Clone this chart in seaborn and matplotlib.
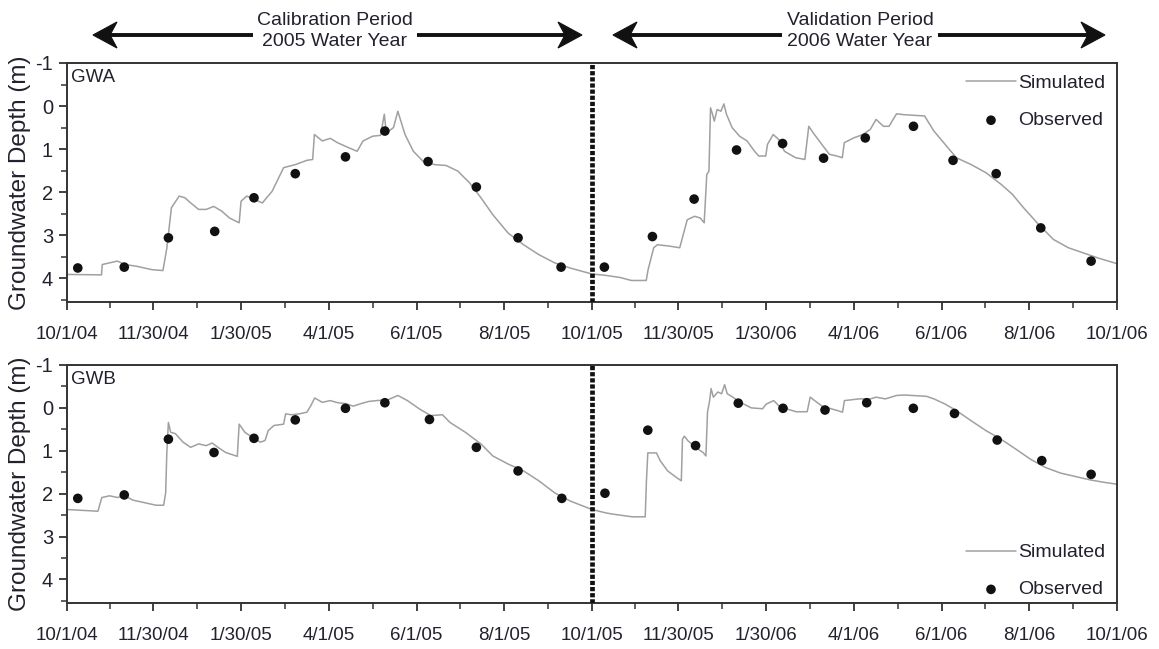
import numpy as np
import pandas as pd
import matplotlib
matplotlib.use("Agg")
import matplotlib.pyplot as plt
from matplotlib.patches import Polygon
from matplotlib.lines import Line2D
import seaborn as sns

START = "2004-10-01"
SPLIT = "2005-10-01"

# ---- GWA : days since 10/1/04, groundwater depth (m) ----
gwa_sim_day = [0, 24, 24.5, 35, 40.3, 48.4, 59.2, 66.7, 69.4, 72.6, 78, 82, 86, 91.5, 96.8,
               102, 107.6, 113, 119.7, 121, 125, 130.5, 135.8, 142.6, 150.6, 158.7, 166.8,
               170.8, 172, 177.5, 183, 188, 196, 201.7, 205.8, 212.5, 218, 220.6, 222, 227,
               230, 235, 240.8, 247.5, 255.5, 263.6, 271.7, 279.8, 287.8, 296, 306.7, 317.4,
               328, 339, 349.7, 365, 374.1, 384.5, 392.3, 402.7, 404, 407.9, 410.5, 418.3,
               426, 431.2, 436.4, 440.3, 443, 444.8, 446.3, 447.4, 448.9, 450, 452, 454.6,
               456.7, 458.5, 462.4, 467.6, 472.8, 478, 481, 485.8, 487, 491, 494.9, 498.8,
               506.6, 513, 515.7, 519.6, 524.8, 530, 535.2, 539, 540.4, 546.9, 553.4, 558.5,
               562.5, 567.6, 571.5, 576.7, 581.9, 596.2, 602.7, 610.5, 618.3, 628.7, 639,
               649.5, 657.3, 665, 675.5, 685.9, 696.2, 706.6, 717, 730]
gwa_sim_depth = [3.91, 3.92, 3.68, 3.6, 3.68, 3.72, 3.8, 3.82, 3.3, 2.36, 2.09, 2.13, 2.25,
                 2.4, 2.4, 2.33, 2.44, 2.6, 2.71, 2.21, 2.09, 2.17, 2.25, 1.98, 1.43, 1.36,
                 1.26, 1.24, 0.66, 0.81, 0.75, 0.85, 0.97, 1.05, 0.81, 0.7, 0.68, 0.19, 0.62,
                 0.5, 0.12, 0.66, 1.05, 1.28, 1.36, 1.38, 1.51, 1.78, 2.13, 2.52, 2.95, 3.22,
                 3.45, 3.64, 3.76, 3.9, 3.93, 3.98, 4.05, 4.05, 3.8, 3.29, 3.22, 3.25, 3.29,
                 2.64, 2.56, 2.6, 2.71, 1.59, 1.51, 0.04, 0.2, 0.35, 0.08, 0.12, -0.05, 0.19,
                 0.5, 0.7, 0.81, 1.05, 1.16, 1.16, 0.89, 0.66, 0.78, 1.05, 1.2, 1.24, 0.47,
                 0.66, 0.89, 1.12, 1.16, 1.2, 0.85, 0.74, 0.66, 0.54, 0.31, 0.47, 0.47, 0.18,
                 0.2, 0.23, 0.58, 0.89, 1.2, 1.36, 1.55, 1.82, 2.05, 2.36, 2.75, 3.1, 3.29,
                 3.41, 3.53, 3.66]
gwa_obs_day = [7.5, 39.8, 70.5, 102.7, 130, 158.7, 193.6, 221, 251, 284.6, 313.6, 343.5,
               373.6, 407, 436, 465.5, 497.5, 526, 555, 588.5, 616, 646, 677, 712]
gwa_obs_depth = [3.76, 3.74, 3.06, 2.91, 2.13, 1.57, 1.18, 0.58, 1.29, 1.88, 3.06, 3.74,
                 3.74, 3.03, 2.16, 1.02, 0.87, 1.21, 0.74, 0.47, 1.26, 1.57, 2.83, 3.6]

# ---- GWB ----
gwb_sim_day = [0, 21.5, 24.2, 29.6, 35, 40.3, 45.7, 53.8, 61.9, 67.2, 68.6, 69.4, 70.5, 72.1,
               75.3, 80.7, 86, 91.5, 96.8, 100.9, 104.9, 110.3, 118.4, 119.7, 123.7, 129,
               134.5, 137.7, 139.9, 143.9, 150.6, 152, 156, 161.4, 166.8, 169.5, 172.2, 177.5,
               183, 188.3, 193.7, 199, 204.4, 209.8, 215.2, 223.3, 230, 236.7, 244.8, 252.9,
               261, 266.3, 277, 287.8, 296, 306.7, 317.4, 328, 339, 349.7, 365, 374.8, 380,
               393, 402, 402.8, 403.8, 409.8, 412.4, 417.6, 424, 427.1, 427.9, 429.2, 431.8,
               437, 442.2, 444.2, 445.3, 446.8, 447.8, 449.4, 452.5, 455.1, 457.2, 459, 462.9,
               468, 475.8, 483.6, 486.2, 491.3, 495.2, 499.1, 506.9, 514.6, 516.7, 519.8, 525,
               535.4, 539.2, 540.5, 550.9, 558.7, 562.5, 569, 576.8, 582, 597.5, 602.7, 610.4,
               618.2, 628.6, 638.9, 649.3, 659.6, 670, 680.3, 690.7, 701, 711.4, 721.8, 730]
gwb_sim_depth = [2.37, 2.41, 2.09, 2.05, 2.09, 2.05, 2.15, 2.21, 2.27, 2.27, 1.98, 1.04,
                 0.34, 0.57, 0.6, 0.8, 0.92, 0.84, 0.88, 0.82, 0.92, 1.04, 1.13, 0.38, 0.57,
                 0.69, 0.8, 0.76, 0.53, 0.41, 0.38, 0.14, 0.16, 0.14, 0.1, -0.05, -0.23, -0.13,
                 -0.17, -0.12, -0.1, -0.04, -0.1, -0.15, -0.17, -0.19, -0.29, -0.17, 0.02, 0.18,
                 0.16, 0.34, 0.57, 0.84, 1.12, 1.31, 1.47, 1.7, 1.98, 2.17, 2.37, 2.45, 2.48,
                 2.54, 2.54, 1.74, 1.05, 1.05, 1.23, 1.47, 1.63, 1.7, 0.73, 0.66, 0.77, 0.92,
                 1.04, 1.12, 0.1, -0.17, -0.45, -0.25, -0.37, -0.33, -0.54, -0.33, -0.25,
                 -0.13, 0.0, 0.02, -0.09, -0.17, -0.04, 0.01, 0.09, 0.09, -0.25, -0.17, -0.04,
                 0.06, 0.1, -0.17, -0.21, -0.21, -0.25, -0.21, -0.29, -0.3, -0.27, -0.21,
                 -0.09, 0.06, 0.3, 0.53, 0.73, 0.96, 1.2, 1.39, 1.52, 1.6, 1.68, 1.74, 1.78]
gwb_obs_day = [7.5, 39.8, 70.5, 102.2, 130, 158.7, 193.6, 221, 252, 284.6, 313.6, 344,
               374, 403.8, 437, 466.7, 497.8, 527, 556, 588.4, 617, 646.7, 677.7, 712]
gwb_obs_depth = [2.11, 2.03, 0.73, 1.04, 0.71, 0.28, 0.01, -0.12, 0.27, 0.92, 1.47, 2.11,
                 1.99, 0.52, 0.88, -0.11, 0.01, 0.05, -0.12, 0.01, 0.13, 0.75, 1.23, 1.55]

tick_dates = ["2004-10-01", "2004-11-30", "2005-01-30", "2005-04-01", "2005-06-01",
              "2005-08-01", "2005-10-01", "2005-11-30", "2006-01-30", "2006-04-01",
              "2006-06-01", "2006-08-01", "2006-10-01"]
tick_labels = ["10/1/04", "11/30/04", "1/30/05", "4/1/05", "6/1/05", "8/1/05", "10/1/05",
               "11/30/05", "1/30/06", "4/1/06", "6/1/06", "8/1/06", "10/1/06"]
y_ticks = [-1, 0, 1, 2, 3, 4]
panel_names = ["GWA", "GWB"]
period_text = ["Calibration Period\n2005 Water Year", "Validation Period\n2006 Water Year"]


def to_dates(days):
    return pd.Timestamp(START) + pd.to_timedelta(np.asarray(days, dtype=float), unit="D")


sns.set_theme(style="ticks")
FAM = ["Liberation Sans", "DejaVu Sans"]
plt.rcParams["font.family"] = FAM
plt.rcParams["axes.unicode_minus"] = False
TXT = "#22222e"

W, H = 1159, 649
fig = plt.figure(figsize=(W / 100, H / 100), dpi=100)
ax1 = fig.add_axes([67 / W, 1 - 302 / H, 1050 / W, 239 / H])
ax2 = fig.add_axes([67 / W, 1 - 603 / H, 1050 / W, 238 / H])

tdt = pd.to_datetime(tick_dates)
minor_dt = tdt[:-1] + (tdt[1:] - tdt[:-1]) / 2

panels = [
    (ax1, gwa_sim_day, gwa_sim_depth, gwa_obs_day, gwa_obs_depth, "upper right", (1.0, 1.0)),
    (ax2, gwb_sim_day, gwb_sim_depth, gwb_obs_day, gwb_obs_depth, "lower right", (1.0, -0.03)),
]
for i, (ax, sd, sv, od, ov, loc, anchor) in enumerate(panels):
    sim = pd.DataFrame({"date": to_dates(sd), "depth": sv})
    obs = pd.DataFrame({"date": to_dates(od), "depth": ov})
    sns.lineplot(data=sim, x="date", y="depth", ax=ax, color="#a0a0a0", lw=1.1,
                 sort=False, estimator=None, label="Simulated")
    sns.scatterplot(data=obs, x="date", y="depth", ax=ax, color="#111111", s=48,
                    edgecolor="none", label="Observed", zorder=3)
    ax.axvline(pd.Timestamp(SPLIT), color="#111111", lw=3.4, ls=(0, (0.9, 0.4)), zorder=4)
    ax.set_xlim(tdt[0], tdt[-1])
    ax.set_ylim(4.55, -1)
    ax.set_yticks(y_ticks)
    ax.set_yticks(np.arange(-0.5, 4.6, 1.0), minor=True)
    ax.set_xticks(tdt)
    ax.set_xticklabels(tick_labels)
    ax.set_xticks(minor_dt, minor=True)
    ax.tick_params(which="major", direction="out", length=6, width=1.3, colors="#333333",
                   labelsize=13.5, labelcolor=TXT)
    ax.tick_params(axis="x", which="major", pad=11)
    ax.tick_params(axis="y", which="major", pad=4, labelsize=14.5)
    ax.tick_params(which="minor", direction="out", length=4, width=1.1, colors="#333333")
    for sp in ax.spines.values():
        sp.set_color("#333333")
        sp.set_linewidth(1.4)
    ax.set_xlabel("")
    ax.set_ylabel("Groundwater Depth (m)", fontsize=17.5, color=TXT, labelpad=3)
    ax.text(0.004, 0.94, panel_names[i], transform=ax.transAxes, ha="left", va="center",
            fontsize=13.5, color=TXT)
    ax.legend(loc=loc, bbox_to_anchor=anchor, frameon=False, fontsize=14, handlelength=2.6,
              handletextpad=0.1, labelspacing=1.0, borderaxespad=0.2, labelcolor=TXT)

# header arrows (thick line with swept-back arrowheads)
arrow_spans = [(93, 582), (613, 1105)]
text_x = [335, 860]
ay = 35
for (x0, x1), tx, txt in zip(arrow_spans, text_x, period_text):
    fig.add_artist(Line2D([(x0 + 14) / W, (x1 - 14) / W], [1 - ay / H, 1 - ay / H],
                          transform=fig.transFigure, color="#111111", lw=2.8))
    for tip, sgn in ((x0, 1), (x1, -1)):
        pts = [(tip, ay), (tip + sgn * 24, ay - 13), (tip + sgn * 17, ay),
               (tip + sgn * 24, ay + 13)]
        fig.add_artist(Polygon([(px / W, 1 - py / H) for px, py in pts], closed=True,
                               transform=fig.transFigure, facecolor="#111111",
                               edgecolor="#111111", lw=0.8))
    fig.text(tx / W, 1 - 31 / H, txt, ha="center", va="center", fontsize=14, color=TXT,
             linespacing=1.25, bbox=dict(facecolor="white", edgecolor="none", pad=3),
             zorder=5)

fig.savefig("out.png", dpi=100)
